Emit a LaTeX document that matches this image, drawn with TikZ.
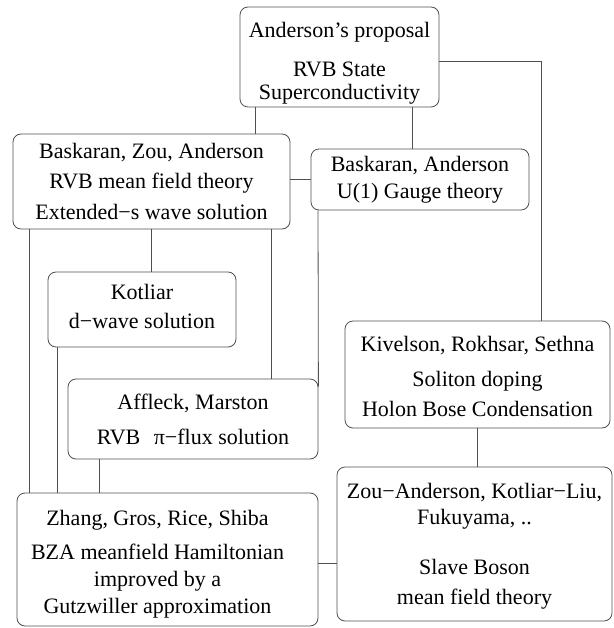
\documentclass[tikz,border=0pt]{standalone}
\usepackage{fontspec}
\setmainfont{Liberation Serif}
\begin{document}
\begin{tikzpicture}[x=1pt,y=-1pt,
  box/.style={draw=linegray,rounded corners=8pt,line width=0.8pt,align=center,inner sep=0pt,
    font=\fontsize{22}{23}\selectfont},
  link/.style={linegray,line width=0.8pt}]
  \definecolor{linegray}{HTML}{505050}
  \useasboundingbox (0,0) rectangle (613,628);
  \node [box,minimum width=199pt,minimum height=100pt] (prop) at (339.5,57)
    {\rule{0pt}{27pt}Anderson’s proposal\\[16pt]RVB State\\Superconductivity};
  \node [box,minimum width=277pt,minimum height=95pt] (bza) at (151.5,181.5)
    {Baskaran, Zou, Anderson\\[7pt]RVB mean field theory\\[8pt]Extended−s wave solution};
  \node [box,minimum width=218pt,minimum height=61pt] (ba) at (420,179.5)
    {Baskaran, Anderson\\[4pt]U(1) Gauge theory};
  \node [box,minimum width=188pt,minimum height=75pt] (kot) at (142,309.5)
    {Kotliar\\[6pt]d−wave solution\rule[-6pt]{0pt}{6pt}};
  \node [box,minimum width=250pt,minimum height=80pt] (aff) at (193,419)
    {Affleck, Marston\\[12pt]RVB\hspace{8pt} π−flux solution};
  \node [box,minimum width=265pt,minimum height=107pt] (kiv) at (477.5,374.5)
    {\rule{0pt}{20pt}Kivelson, Rokhsar, Sethna\\[12pt]Soliton doping\\[7pt]Holon Bose Condensation};
  \node [box,minimum width=301pt,minimum height=133pt] (bzs) at (167.5,559.5)
    {\rule{0pt}{25pt}Zhang, Gros, Rice, Shiba\kern20pt\\[11pt]BZA meanfield Hamiltonian\kern20pt\\[4pt]improved by a\kern20pt\\[4pt]Gutzwiller approximation\kern20pt};
  \node [box,minimum width=275pt,minimum height=154pt] (slave) at (474.5,544)
    {\rule{0pt}{20pt}Zou−Anderson, Kotliar−Liu,\\[3pt]Fukuyama, ..\\[27pt]Slave Boson\\[7pt]mean field theory};
  \draw [link] ([yshift=-4pt]prop.east) -| ([xshift=63.5pt]kiv.north);
  \draw [link] ([xshift=-84.5pt]prop.south) coordinate (p1) -- (p1 |- bza.north);
  \draw [link] ([xshift=72.5pt]prop.south) coordinate (p2) -- (p2 |- ba.north);
  \draw [link] (ba.west) -- (ba.west -| bza.east);
  \draw [link] ([xshift=-122.5pt]bza.south) coordinate (b1) -- (b1 |- bzs.north);
  \draw [link] (bza.south) -- (bza.south |- kot.north);
  \draw [link] ([xshift=119.5pt]bza.south) coordinate (b2) -- (b2 |- aff.north);
  \draw [link] ([xshift=-102pt]ba.south) -- ([yshift=-8pt]aff.north east);
  \draw [link] ([xshift=-85pt]kot.south) coordinate (k1) -- (k1 |- bzs.north);
  \draw [link] ([xshift=-94pt]aff.south) coordinate (a1) -- (a1 |- bzs.north);
  \draw [link] (kiv.south) -- (kiv.south |- slave.north);
  \draw [link] ([yshift=-3.5pt]bzs.east) coordinate (z1) -- (z1 -| slave.west);
\end{tikzpicture}
\end{document}
